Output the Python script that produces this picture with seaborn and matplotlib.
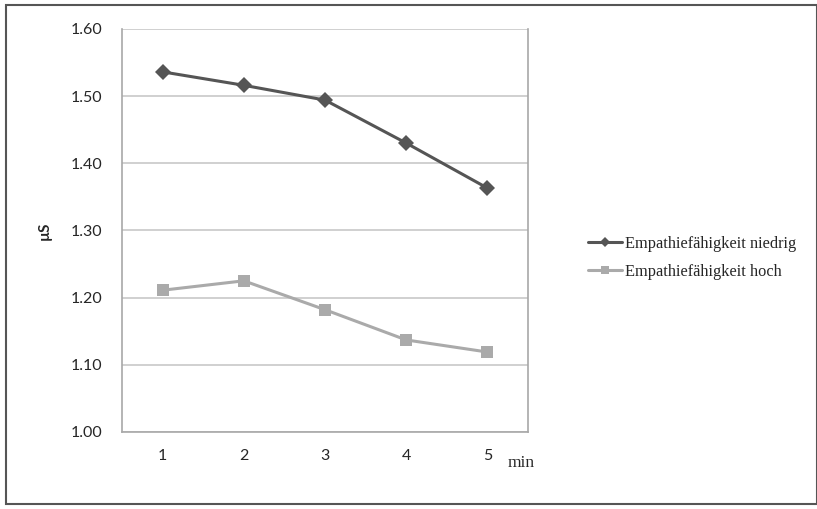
import pandas as pd
import matplotlib.pyplot as plt
import seaborn as sns

# values
minutes = [1, 2, 3, 4, 5]
niedrig = [1.536, 1.516, 1.494, 1.430, 1.363]
hoch = [1.211, 1.225, 1.182, 1.137, 1.119]
y_ticks = [1.00, 1.10, 1.20, 1.30, 1.40, 1.50, 1.60]
labels = ['Empathiefähigkeit niedrig', 'Empathiefähigkeit hoch']

df = pd.DataFrame({'min': minutes * 2,
                   'val': niedrig + hoch,
                   'group': [labels[0]] * 5 + [labels[1]] * 5})

sns.set_style('white')
fig = plt.figure(figsize=(8.17, 5.09), dpi=100)
ax = fig.add_axes([0.1493, 0.1513, 0.497, 0.792])

sns.lineplot(data=df, x='min', y='val', hue='group', style='group',
             palette=['#555555', '#aaaaaa'], markers=['D', 's'], dashes=False,
             markersize=8, linewidth=2.2, markeredgewidth=0, ax=ax)

ax.set_xlim(0.5, 5.5)
ax.set_ylim(1.0, 1.6)
ax.set_yticks(y_ticks)
ax.set_yticklabels([f'{v:.2f}' for v in y_ticks], fontfamily='Lato', fontsize=11.5)
ax.set_xticks(minutes)
ax.set_xticklabels([str(m) for m in minutes], fontfamily='Lato', fontsize=11.5)
ax.tick_params(length=0, pad=12)
ax.tick_params(axis='y', pad=14)
ax.yaxis.grid(True, color='#c8c8c8', linewidth=1.2)
for s in ['left', 'right', 'bottom']:
    ax.spines[s].set_color('#a8a8a8')
    ax.spines[s].set_linewidth(1.2)
ax.spines['top'].set_visible(False)
ax.set_xlabel('')
ax.set_ylabel('µS', fontfamily='Lato', fontweight='bold', fontsize=11, labelpad=14)
fig.text(508 / 817, 1 - 463 / 509, 'min', fontfamily='Liberation Serif', fontsize=12.5,
         ha='left', va='center')

leg = ax.legend(loc='center left', bbox_to_anchor=(588 / 817, 1 - 258 / 509),
                bbox_transform=fig.transFigure, frameon=False, handlelength=2.1,
                handletextpad=0.15, labelspacing=0.75, markerscale=0.7,
                borderpad=0, borderaxespad=0,
                prop={'family': 'Liberation Serif', 'size': 11.8})

# outer frame of the chart
fig.patches.append(plt.Rectangle((6 / 817, 5 / 509), 1 - 6 / 817, 1 - 10 / 509,
                                 transform=fig.transFigure, fill=False,
                                 edgecolor='#555555', linewidth=1.5))

plt.savefig('out.png', dpi=100)
plt.close()
